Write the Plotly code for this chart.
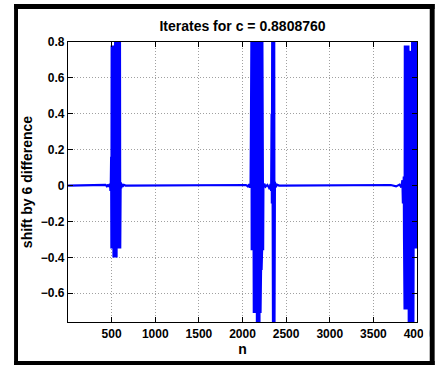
import plotly.graph_objects as go

# ---------------- data ----------------
# quiet (near-zero) stretches between the bursts
quiet_n = [1, 200, 400, 430, 445, 460, 470, 480, 486, 490,
           604, 610, 617, 626, 640, 660, 1000, 1500, 2000, 2040, 2060, 2075, 2085, 2092,
           2240, 2250, 2265, 2285, 2300, 2312, 2320, 2328,
           2372, 2380, 2395, 2420, 3000, 3500, 3700, 3760, 3800, 3820, 3832, 3838, 3844]
quiet_d = [0.0, 0.0, 0.0, 0.004, -0.004, 0.006, -0.008, 0.01, -0.03, 0.01,
           0.02, -0.015, 0.01, -0.006, 0.004, 0.0, 0.0, 0.0, 0.0, 0.003, -0.005, 0.008, -0.012, 0.015,
           -0.015, 0.01, -0.006, 0.004, -0.008, -0.02, 0.01, -0.03,
           0.02, -0.01, 0.005, 0.0, 0.0, 0.0, 0.003, -0.004, 0.006, -0.01, 0.03, -0.1, 0.05]

# burst near n = 500-600 (upper / lower swings)
b1_n = [494, 500, 506, 512, 518, 524, 530, 536, 542, 548, 554, 560, 566, 572, 578, 584, 590, 596]
b1_hi = [0.16, 0.78, 0.78, 0.78, 0.78, 0.78, 0.70, 0.70, 0.85, 0.85, 0.85, 0.85, 0.85, 0.85, 0.85, 0.85, 0.85, 0.85]
b1_lo = [-0.35, -0.35, -0.35, -0.35, -0.40, -0.40, -0.40, -0.40, -0.40, -0.40, -0.40, -0.35, -0.35, -0.35, -0.35, -0.35, -0.35, -0.35]

# burst near n = 2100-2230
b2_n = [2096, 2102, 2108, 2114, 2120, 2126, 2132, 2138, 2144, 2150, 2156, 2162, 2168, 2174, 2180,
        2186, 2192, 2198, 2204, 2210, 2216, 2222, 2228, 2234]
b2_hi = [0.30, 0.85, 0.85, 0.85, 0.85, 0.85, 0.85, 0.85, 0.72, 0.72, 0.85, 0.85, 0.85, 0.85, 0.85,
         0.68, 0.68, 0.85, 0.85, 0.85, 0.85, 0.85, 0.85, 0.85]
b2_lo = [-0.36, -0.36, -0.36, -0.36, -0.36, -0.71, -0.71, -0.71, -0.71, -0.71, -0.60, -0.80, -0.80, -0.80, -0.80,
         -0.80, -0.80, -0.71, -0.71, -0.47, -0.47, -0.36, -0.36, -0.36]

# narrow spike near n = 2350
b3_n = [2333, 2340, 2346, 2352, 2358, 2364]
b3_hi = [0.40, 0.85, 0.85, 0.85, 0.85, 0.85]
b3_lo = [-0.10, -0.80, -0.80, -0.80, -0.80, -0.80]

# burst near n = 3850-4000
b4_n = [3848, 3854, 3860, 3866, 3872, 3878, 3884, 3890, 3896, 3902, 3908, 3914, 3920, 3926, 3932,
        3938, 3944, 3950, 3956, 3962, 3968, 3974, 3980, 3986, 3992, 3998]
b4_hi = [0.05, 0.78, 0.78, 0.78, 0.78, 0.78, 0.78, 0.78, 0.78, 0.78, 0.75, 0.75, 0.72, 0.75, 0.75,
         0.75, 0.85, 0.85, 0.85, 0.85, 0.85, 0.85, 0.85, 0.85, 0.85, 0.85]
b4_lo = [-0.30, -0.69, -0.69, -0.69, -0.69, -0.69, -0.69, -0.69, -0.40, -0.80, -0.80, -0.80, -0.80, -0.80, -0.80,
         -0.80, -0.80, -0.80, -0.80, -0.80, -0.35, -0.35, -0.35, -0.35, -0.35, -0.35]

x_ticks = [500, 1000, 1500, 2000, 2500, 3000, 3500, 4000]
y_ticks = [-0.6, -0.4, -0.2, 0, 0.2, 0.4, 0.6, 0.8]

# ---------------- assemble the series ----------------
pts = list(zip(quiet_n, quiet_d))
for bn, bh, bl in [(b1_n, b1_hi, b1_lo), (b2_n, b2_hi, b2_lo), (b3_n, b3_hi, b3_lo), (b4_n, b4_hi, b4_lo)]:
    for n, h, l in zip(bn, bh, bl):
        pts.append((n, h))
        pts.append((n + 3, l))
pts.sort(key=lambda p: p[0])
xs = [p[0] for p in pts]
ys = [p[1] for p in pts]

W, H = 443, 366
L, R, T, B = 68, 424, 42, 322

def px(x):
    return (x - L) / (R - L)

def py(y):
    return (B - y) / (B - T)

fig = go.Figure()
fig.add_trace(go.Scatter(x=xs, y=ys, mode="lines",
                         line=dict(color="#0000ff", width=2.1), hoverinfo="skip"))

font_b = dict(family="Liberation Sans, Arial, sans-serif", size=12, color="black", weight="bold")
font_t = dict(family="Liberation Sans, Arial, sans-serif", size=14, color="black", weight="bold")

axis_common = dict(showline=True, linecolor="black", linewidth=1.3, mirror="ticks",
                   ticks="inside", ticklen=5, tickcolor="black", tickwidth=1,
                   showgrid=True, gridcolor="#a0a0a0", griddash="1px,2px", gridwidth=1,
                   zeroline=False, tickfont=font_b)

fig.update_xaxes(range=[0, 4000], tickvals=x_ticks, **axis_common,
                 title=dict(text="n", font=font_t, standoff=0))
fig.update_yaxes(range=[-0.76, 0.8], tickvals=y_ticks, **axis_common,
                 title=dict(text="shift by 6 difference", font=font_t, standoff=4))

shapes = []
# white mask hiding clipped end of last tick label
shapes.append(dict(type="rect", xref="paper", yref="paper", x0=px(430.5), x1=px(437), y0=py(346), y1=py(323),
                   fillcolor="white", line=dict(width=0), layer="above"))
# black frame around the figure
for (x0, y0, x1, y1) in [(13, 4, 17, 365), (13, 4, 442, 9), (437, 4, 442, 365), (13, 361, 442, 365)]:
    shapes.append(dict(type="rect", xref="paper", yref="paper", x0=px(x0), x1=px(x1), y0=py(y1), y1=py(y0),
                       fillcolor="black", line=dict(width=0), layer="above"))

fig.update_layout(
    width=W, height=H,
    margin=dict(l=L, r=W - R, t=T, b=H - B, pad=0),
    paper_bgcolor="white", plot_bgcolor="white",
    showlegend=False,
    title=dict(text="Iterates for c = 0.8808760", font=font_t, x=0.5, xref="paper",
               y=1 - 26 / H, yref="container", yanchor="middle", xanchor="center"),
    shapes=shapes,
)

fig.write_html("out.html")
